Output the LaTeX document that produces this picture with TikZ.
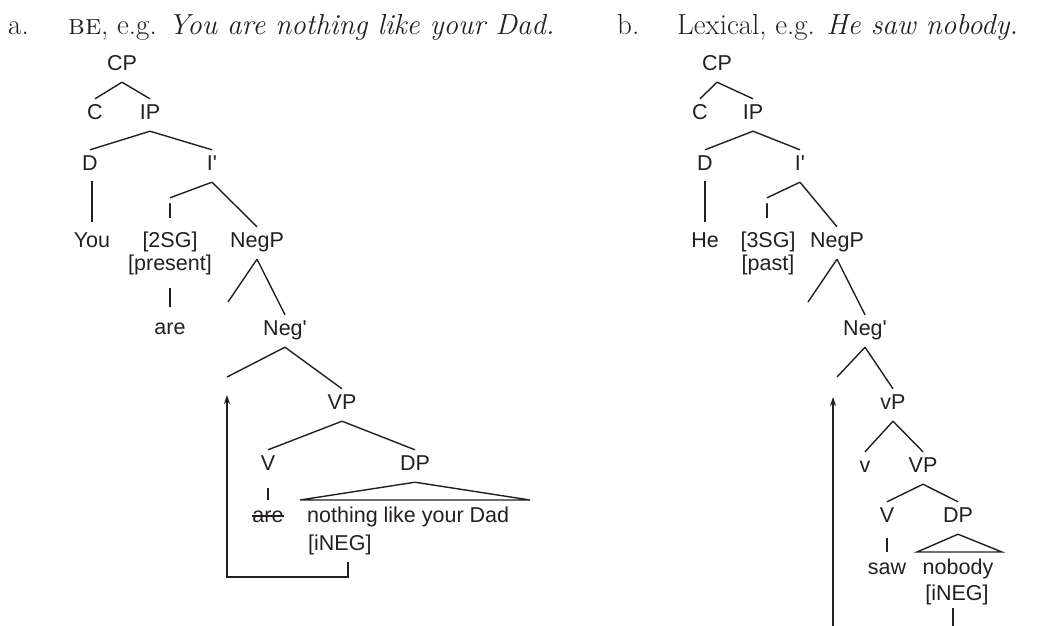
\documentclass[tikz,border=0pt]{standalone}
\usepackage{fontspec}
\newfontfamily\treefont{Liberation Sans}
\usetikzlibrary{arrows.meta}
\definecolor{ink}{RGB}{35,31,32}
\newcommand\tbranch[2]{\draw[ln] ([yshift=-11.5pt]#1.south) -- ([yshift=5.5pt]#2.north);}
\begin{document}
\begin{tikzpicture}[x=1pt,y=-1pt,
  lab/.style={font=\treefont\fontsize{21.5}{25}\selectfont, text=ink, inner sep=0pt, text height=15pt, text depth=0pt, anchor=center},
  ttl/.style={font=\fontsize{29}{34}\selectfont, text=ink, inner sep=0pt, anchor=base west},
  ln/.style={draw=ink, line width=1.4pt},
  arr/.style={draw=ink, line width=1.4pt, -{Stealth[length=9pt,width=6pt]}}]
\useasboundingbox (0,0) rectangle (1038,625);
% titles
\node[ttl] (la) at (8,34) {a.};
\node[ttl] (ta) at (68,34) {\textsc{be}, e.g. \textit{You are nothing like your Dad.}};
\node[ttl] (lb) at (617,34) {b.};
\node[ttl] (tb) at (677,34) {Lexical, e.g. \textit{He saw nobody.}};
% ---------- tree a ----------
\node[lab] (CPa) at (122,63) {CP};
\node[lab] (Ca) at (95,112) {C};
\node[lab] (IPa) at (150,112) {IP};
\node[lab] (Da) at (90,163) {D};
\node[lab] (Ibara) at (212,163) {I'};
\node[lab] (Ia) at (170,211) {I};
\node[lab] (Youa) at (92,240) {You};
\node[lab] (SGa) at (170,240) {[2SG]};
\node[lab] (presa) at (170,263) {[present]};
\node[lab] (NegPa) at (257,240) {NegP};
\node[lab] (area1) at (170,327) {are};
\node[lab] (Negba) at (285,328) {Neg'};
\node[lab] (VPa) at (342,402) {VP};
\node[lab] (Va) at (268,463) {V};
\node[lab] (DPa) at (415,463) {DP};
\node[lab] (area2) at (268,515) {are};
\node[lab, anchor=west] (nothing) at (307,515) {nothing like your Dad};
\node[lab, anchor=west] (iNEGa) at (308,543) {[iNEG]};
\coordinate (NegPaL) at (228,302);
\coordinate (NegbaL) at (227,377);
\coordinate (triAL) at (300,500);
\coordinate (triAR) at (530,500);
\coordinate (arrA0) at (348,562);
\coordinate (arrAtip) at (227,395);
\tbranch{CPa}{Ca}
\tbranch{CPa}{IPa}
\tbranch{IPa}{Da}
\tbranch{IPa}{Ibara}
\tbranch{Ibara}{Ia}
\tbranch{Ibara}{NegPa}
\draw[ln] ([yshift=-11.5pt]NegPa.south) -- (NegPaL);
\tbranch{NegPa}{Negba}
\draw[ln] ([yshift=-11.5pt]Negba.south) -- (NegbaL);
\tbranch{Negba}{VPa}
\tbranch{VPa}{Va}
\tbranch{VPa}{DPa}
\draw[ln] ([yshift=-10pt]Da.south -| Youa.north) -- ([yshift=10pt]Youa.north);
\draw[ln] ([yshift=-17pt]presa.south) -- ([yshift=12.5pt]area1.north);
\draw[ln] ([yshift=-17.5pt]Va.south) -- ([yshift=7.5pt]Va.south |- area2.north);
\draw[ln] (triAL) -- ([yshift=-11.5pt]DPa.south) -- (triAR) -- cycle;
\draw[draw=ink, line width=1.1pt] ([yshift=-1pt]area2.west) -- ([yshift=-1pt]area2.east);
\draw[arr] (arrA0) -- ++(0,15) -| (arrAtip);
% ---------- tree b ----------
\node[lab] (CPb) at (717,63) {CP};
\node[lab] (Cb) at (700,112) {C};
\node[lab] (IPb) at (753,112) {IP};
\node[lab] (Db) at (705,163) {D};
\node[lab] (Ibarb) at (800,163) {I'};
\node[lab] (Ib) at (767,211) {I};
\node[lab] (Heb) at (705,240) {He};
\node[lab] (SGb) at (768,240) {[3SG]};
\node[lab] (pastb) at (768,263) {[past]};
\node[lab] (NegPb) at (837,240) {NegP};
\node[lab] (Negbb) at (865,328) {Neg'};
\node[lab] (vPb) at (893,402) {vP};
\node[lab] (vb) at (865,465) {v};
\node[lab] (VPb) at (923,465) {VP};
\node[lab] (Vb) at (887,515) {V};
\node[lab] (DPb) at (958,515) {DP};
\node[lab] (saw) at (887,567) {saw};
\node[lab] (nobody) at (958,567) {nobody};
\node[lab] (iNEGb) at (957,593) {[iNEG]};
\coordinate (NegPbL) at (808,302);
\coordinate (NegbbL) at (837,377);
\coordinate (triBL) at (917,552);
\coordinate (triBR) at (1002,552);
\coordinate (arrBtail) at (833,626);
\coordinate (arrBtip) at (833,397);
\coordinate (iNEGbEnd) at (953,626);
\tbranch{CPb}{Cb}
\tbranch{CPb}{IPb}
\tbranch{IPb}{Db}
\tbranch{IPb}{Ibarb}
\tbranch{Ibarb}{Ib}
\tbranch{Ibarb}{NegPb}
\draw[ln] ([yshift=-11.5pt]NegPb.south) -- (NegPbL);
\tbranch{NegPb}{Negbb}
\draw[ln] ([yshift=-11.5pt]Negbb.south) -- (NegbbL);
\tbranch{Negbb}{vPb}
\tbranch{vPb}{vb}
\tbranch{vPb}{VPb}
\tbranch{VPb}{Vb}
\tbranch{VPb}{DPb}
\draw[ln] ([yshift=-10pt]Db.south -| Heb.north) -- ([yshift=10pt]Heb.north);
\draw[ln] ([yshift=-15.5pt]Vb.south) -- ([yshift=7.5pt]Vb.south |- saw.north);
\draw[ln] (triBL) -- ([yshift=-11.5pt]DPb.south) -- (triBR) -- cycle;
\draw[ln] ([yshift=-7.5pt]iNEGb.south -| iNEGbEnd) -- (iNEGbEnd);
\draw[arr] (arrBtail) -- (arrBtip);
\end{tikzpicture}
\end{document}
